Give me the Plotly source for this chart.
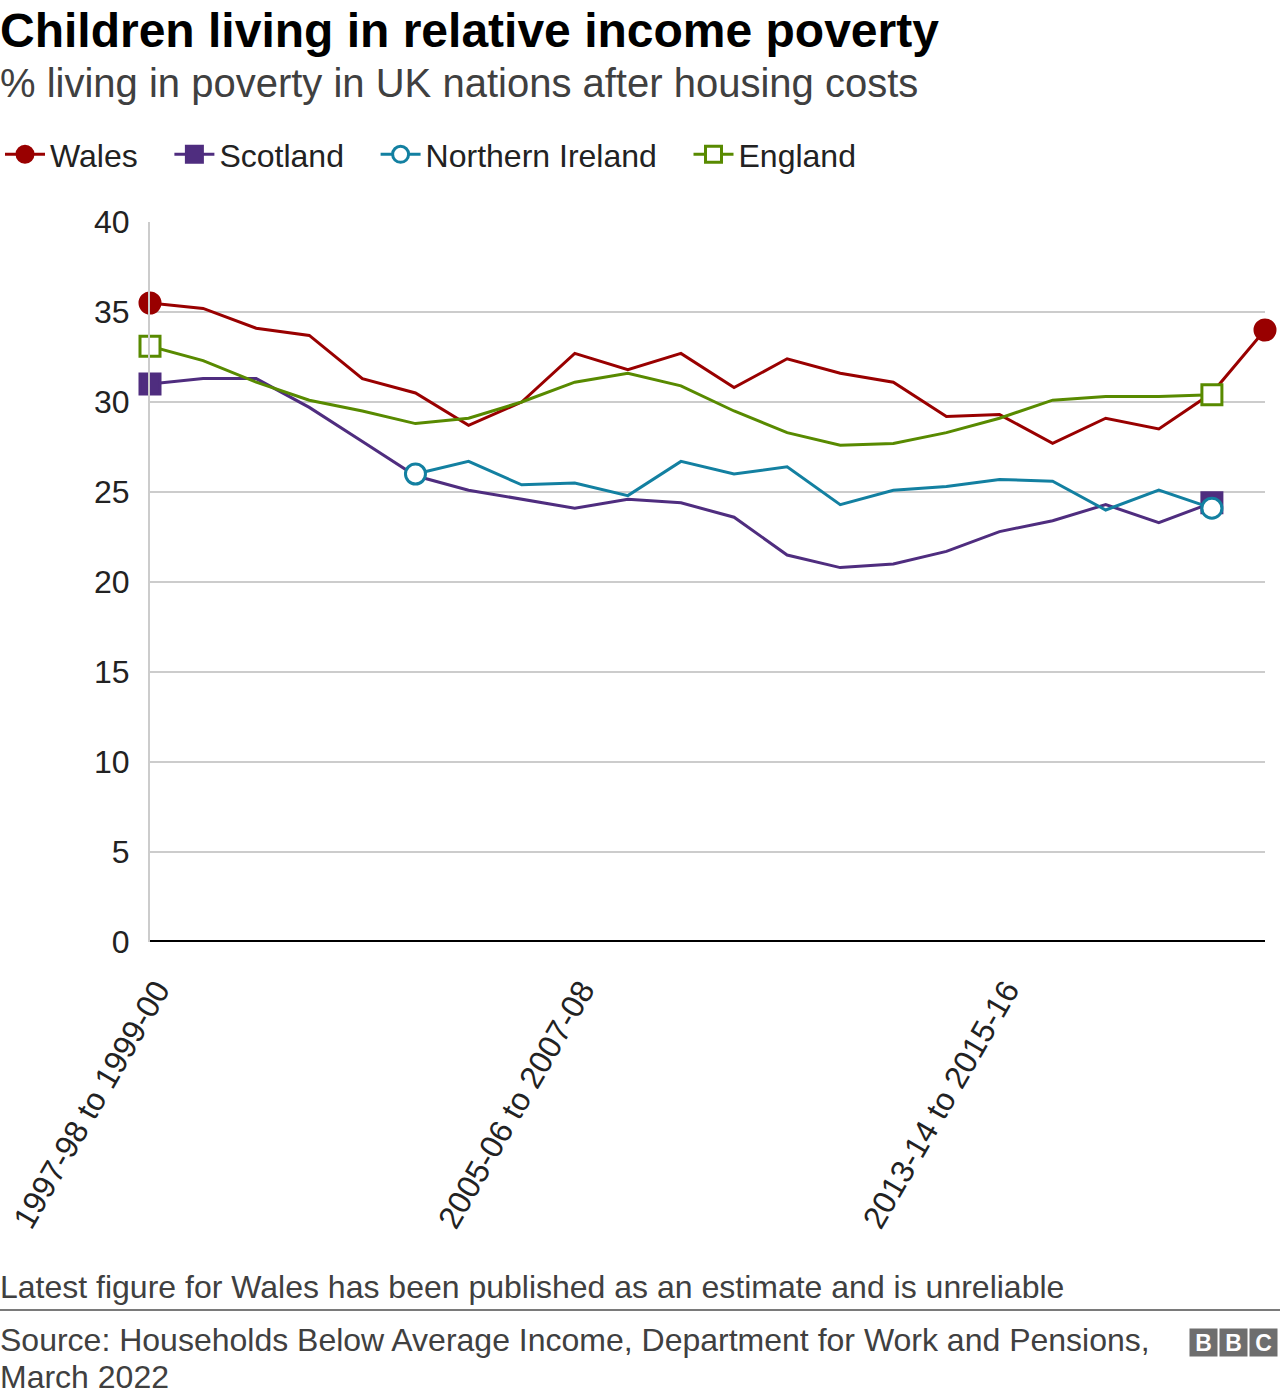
import plotly.graph_objects as go

periods = [
    "1997-98 to 1999-00", "1998-99 to 2000-01", "1999-00 to 2001-02", "2000-01 to 2002-03",
    "2001-02 to 2003-04", "2002-03 to 2004-05", "2003-04 to 2005-06", "2004-05 to 2006-07",
    "2005-06 to 2007-08", "2006-07 to 2008-09", "2007-08 to 2009-10", "2008-09 to 2010-11",
    "2009-10 to 2011-12", "2010-11 to 2012-13", "2011-12 to 2013-14", "2012-13 to 2014-15",
    "2013-14 to 2015-16", "2014-15 to 2016-17", "2015-16 to 2017-18", "2016-17 to 2018-19",
    "2017-18 to 2019-20", "2018-19 to 2020-21",
]
tick_labels = ["1997-98 to 1999-00", "2005-06 to 2007-08", "2013-14 to 2015-16"]

wales = [35.5, 35.2, 34.1, 33.7, 31.3, 30.5, 28.7, 30.0, 32.7, 31.8, 32.7, 30.8,
         32.4, 31.6, 31.1, 29.2, 29.3, 27.7, 29.1, 28.5, 30.5, 34.0]
scotland = [31.0, 31.3, 31.3, 29.7, 27.8, 25.9, 25.1, 24.6, 24.1, 24.6, 24.4, 23.6,
            21.5, 20.8, 21.0, 21.7, 22.8, 23.4, 24.3, 23.3, 24.4, None]
n_ireland = [None, None, None, None, None, 26.0, 26.7, 25.4, 25.5, 24.8, 26.7, 26.0,
             26.4, 24.3, 25.1, 25.3, 25.7, 25.6, 24.0, 25.1, 24.1, None]
england = [33.1, 32.3, 31.1, 30.1, 29.5, 28.8, 29.1, 30.0, 31.1, 31.6, 30.9, 29.5,
           28.3, 27.6, 27.7, 28.3, 29.1, 30.1, 30.3, 30.3, 30.4, None]

series_names = ["Wales", "Scotland", "Northern Ireland", "England"]
series_values = [wales, scotland, n_ireland, england]
series_colors = ["#990000", "#4f2d7f", "#1380a1", "#588a00"]
series_symbols = ["circle", "square", "circle", "square"]
series_fills = ["#990000", "#4f2d7f", "white", "white"]

W, H = 1280, 1396
L, R, T, B = 150, 15, 222, 454
PW = W - L - R
PH = H - T - B
FONT = "Liberation Sans, Arial, sans-serif"
NBSP = "\u00a0"


def px_x(px):
    return (px - L) / PW


def px_y(py):
    return (H - B - py) / PH


fig = go.Figure()

for k, (name, vals, color, sym, fill) in enumerate(
        zip(series_names, series_values, series_colors, series_symbols, series_fills)):
    xs = [p for p, v in zip(periods, vals) if v is not None]
    ys = [v for v in vals if v is not None]
    fig.add_trace(go.Scatter(
        x=xs, y=ys, mode="lines", line=dict(color=color, width=3),
        showlegend=False, hoverinfo="skip", legendgroup=name, cliponaxis=False,
    ))
    fig.add_trace(go.Scatter(
        x=[xs[0], xs[-1]], y=[ys[0], ys[-1]], mode="markers",
        marker=dict(symbol=sym, size=20, color=fill, line=dict(color=color, width=3)),
        showlegend=False, legendgroup=name, cliponaxis=False,
    ))
    label = name + (NBSP * 3 if k < len(series_names) - 1 else "")
    fig.add_trace(go.Scatter(
        x=[None], y=[None], mode="lines+markers", name=label, legendgroup=name,
        line=dict(color=color, width=3),
        marker=dict(symbol=sym, size=20, color=fill, line=dict(color=color, width=3)),
    ))

fig.update_layout(
    width=W, height=H,
    margin=dict(l=L, r=R, t=T, b=B, autoexpand=False),
    paper_bgcolor="white", plot_bgcolor="white",
    font=dict(family=FONT, color="#222222"),
    showlegend=True,
    legend=dict(
        orientation="h", xref="container", yref="container",
        x=0, y=1 - 127 / H, xanchor="left", yanchor="top",
        font=dict(size=32, color="#222222"), itemwidth=40,
        traceorder="normal", bgcolor="rgba(0,0,0,0)",
    ),
    xaxis=dict(
        type="category", categoryorder="array", categoryarray=periods,
        range=[0, len(periods) - 1], automargin=False,
        tickmode="array", tickvals=tick_labels, ticktext=tick_labels,
        tickangle=-60, tickfont=dict(size=32, color="#222222"),
        ticklabelstandoff=22, ticklabelshift=7,
        showgrid=False, showline=False, ticks="", zeroline=False,
    ),
    yaxis=dict(
        range=[0, 40], dtick=5, tickfont=dict(size=32, color="#222222"),
        showgrid=True, gridcolor="#cccccc", gridwidth=2, automargin=False,
        showline=True, linecolor="#cccccc", linewidth=2,
        zeroline=False, ticks="", ticklabelstandoff=12,
    ),
    shapes=[
        dict(type="line", xref="paper", yref="y", x0=0, x1=1, y0=0, y1=0,
             line=dict(color="black", width=4), layer="above"),
        dict(type="line", xref="paper", yref="paper", x0=px_x(0), x1=px_x(1280),
             y0=px_y(1310), y1=px_y(1310), line=dict(color="#7a7a7a", width=2)),
    ],
    annotations=[
        dict(text="<b>Children living in relative income poverty</b>", xref="paper", yref="paper",
             x=px_x(-2), y=px_y(30), xanchor="left", yanchor="middle", showarrow=False,
             font=dict(size=48, color="#000000")),
        dict(text="% living in poverty in UK nations after housing costs", xref="paper", yref="paper",
             x=px_x(-2), y=px_y(83), xanchor="left", yanchor="middle", showarrow=False,
             font=dict(size=40, color="#404040")),
        dict(text="Latest figure for Wales has been published as an estimate and is unreliable",
             xref="paper", yref="paper", x=px_x(-2), y=px_y(1287), xanchor="left", yanchor="middle",
             showarrow=False, font=dict(size=32, color="#404040")),
        dict(text="Source: Households Below Average Income, Department for Work and Pensions,",
             xref="paper", yref="paper", x=px_x(-2), y=px_y(1340), xanchor="left", yanchor="middle",
             showarrow=False, font=dict(size=32, color="#404040")),
        dict(text="March 2022",
             xref="paper", yref="paper", x=px_x(-2), y=px_y(1377), xanchor="left", yanchor="middle",
             showarrow=False, font=dict(size=32, color="#404040")),
    ],
)

for cx, letter in zip([1203.5, 1233, 1263], "BBC"):
    fig.add_annotation(
        text="<b>%s</b>" % letter, xref="paper", yref="paper",
        x=px_x(cx), y=px_y(1342.5), xanchor="center", yanchor="middle",
        showarrow=False, font=dict(size=23, color="white", family=FONT),
        bgcolor="#6e6e6e", width=27, height=27, borderpad=0,
    )

fig.write_html("out.html", config={"displayModeBar": False},
               post_script="document.body.style.margin='0';")
